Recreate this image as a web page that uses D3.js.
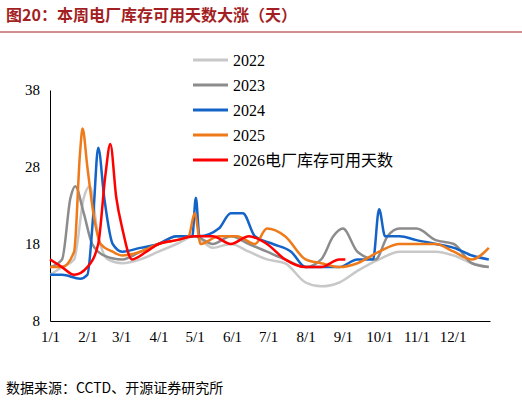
<!DOCTYPE html><html><head><meta charset="utf-8">
<script src="https://cdn.jsdelivr.net/npm/d3@7"></script>
<style>body{margin:0;background:#fff}</style></head><body><svg id="c" width="522" height="405"></svg>
<script>
const yTicks=[8,18,28,38];
const xLabels=["1/1","2/1","3/1","4/1","5/1","6/1","7/1","8/1","9/1","10/1","11/1","12/1"];
const xDoy=[0,31,59,90,120,151,181,212,243,273,304,334];
const names=["2022","2023","2024","2025","2026电厂库存可用天数"];
const colors=["#c8c8c8","#8c8c8c","#1464c8","#ee7a1a","#ff0000"];
const s2022=[[0,14],[10,15],[20,16],[28,24],[33,25.5],[40,19],[48,16],[60,15.5],[75,16],[90,17],[105,18],[120,19],[135,17.5],[150,18],[165,17],[180,16],[195,15.5],[212,13],[225,12.5],[240,13],[255,14.5],[273,16],[290,17],[304,17],[320,17],[335,16.5],[350,15.5],[364,15]];
const s2023=[[0,15],[10,16],[17,24],[21,25.5],[28,22],[35,18],[45,16.5],[60,16],[75,17],[90,18],[105,19],[120,19],[135,18],[150,19],[165,18],[180,17],[195,16],[212,15],[225,16],[235,19],[243,20],[255,17],[270,16],[280,19],[290,20],[304,20],[320,18.5],[335,18],[350,15.5],[364,15]];
const s2024=[[0,14],[10,14],[25,13.5],[31,14],[36,22],[40,30.5],[45,24],[52,18],[60,17],[75,17.5],[90,18],[105,19],[118,19],[121,24],[124,19],[140,20],[150,22],[160,22],[170,19],[185,18],[200,17],[212,15],[225,15],[240,15],[255,16],[268,16],[273,22.5],[278,19],[290,19],[304,18.5],[320,18],[335,17.5],[350,16.5],[364,16]];
const s2025=[[0,15],[10,15],[20,17],[25,30],[27,33],[31,28],[36,22],[42,18],[52,17],[60,16.5],[75,17],[90,18],[105,18.5],[115,19],[120,22],[125,18],[140,19],[155,19],[170,18],[180,20],[195,19],[212,16],[225,15.5],[240,15],[255,15.5],[273,17],[290,18],[304,18],[320,18],[335,17],[350,16],[364,17.5]];
const s2026=[[0,16],[10,15],[20,14],[31,15],[40,18],[46,27],[50,31],[55,24],[60,20],[68,16],[80,17],[90,18],[105,18.5],[120,19],[135,19],[150,18],[165,19],[180,18],[195,16],[212,15],[225,15],[240,16],[245,16]];
const series=[s2022,s2023,s2024,s2025,s2026];
const svg=d3.select("#c");
svg.append("text").attr("x",6).attr("y",21).attr("fill","#a31e23").attr("font-size",16).attr("font-weight","bold").attr("font-family","Noto Sans CJK SC").text("图20：本周电厂库存可用天数大涨（天）");
svg.append("line").attr("x1",0).attr("x2",522).attr("y1",32).attr("y2",32).attr("stroke","#a31e23").attr("stroke-width",1);
const x=d3.scaleLinear().domain([0,365]).range([50,490]);
const y=d3.scaleLinear().domain([8,38]).range([321,90]);
const ax=svg.append("g").attr("transform","translate(0,321)").call(d3.axisBottom(x).tickValues(xDoy).tickFormat((d,i)=>xLabels[i]).tickSize(0).tickPadding(10));
ax.select(".domain").attr("stroke","#000");
const ay=svg.append("g").attr("transform","translate(50,0)").call(d3.axisLeft(y).tickValues(yTicks).tickSize(0).tickPadding(10));
ay.select(".domain").attr("stroke","#000");
svg.selectAll(".tick text").attr("font-family","Times New Roman, Liberation Serif").attr("font-size",15).attr("fill","#000");
const line=d3.line().x(d=>x(d[0])).y(d=>y(d[1])).curve(d3.curveMonotoneX);
series.forEach((s,i)=>svg.append("path").attr("d",line(s)).attr("fill","none").attr("stroke",colors[i]).attr("stroke-width",2.5));
names.forEach((n,i)=>{const yy=60+i*25;
svg.append("line").attr("x1",193).attr("x2",228).attr("y1",yy).attr("y2",yy).attr("stroke",colors[i]).attr("stroke-width",3);
svg.append("text").attr("x",233).attr("y",yy+6).attr("font-size",16).attr("font-family","Liberation Serif, Noto Sans CJK SC").text(n);});
svg.append("text").attr("x",6).attr("y",393).attr("font-size",14).attr("font-family","Noto Sans CJK SC").text("数据来源：CCTD、开源证券研究所");
</script></body></html>
